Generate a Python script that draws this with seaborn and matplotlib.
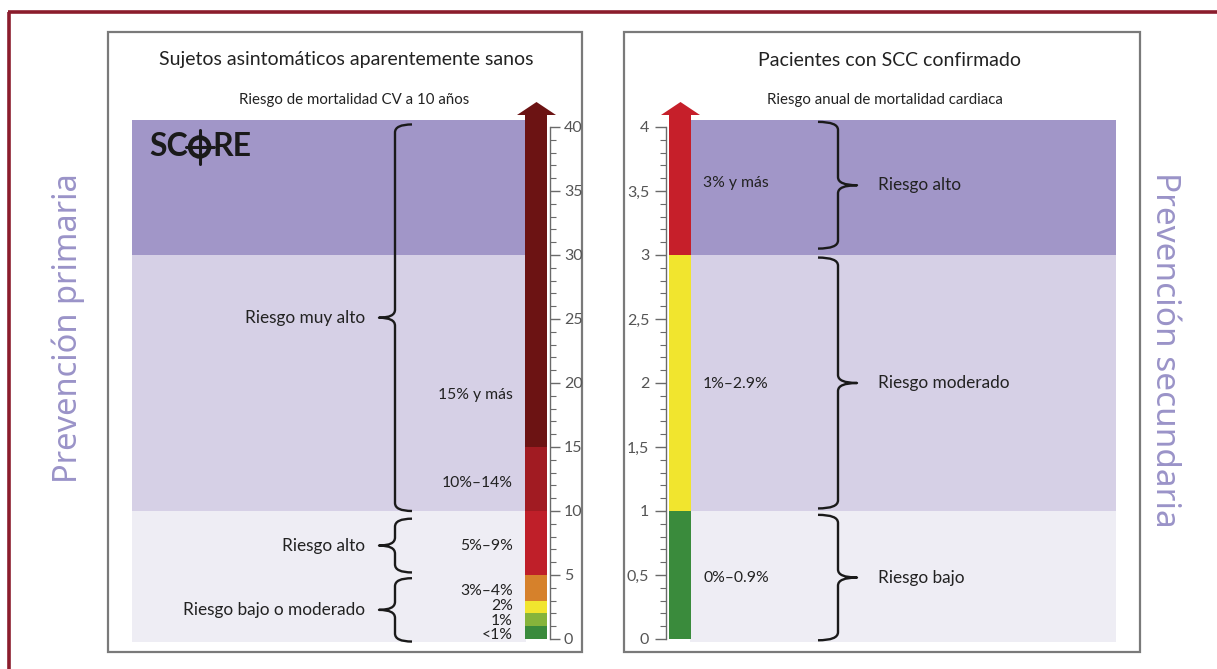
import numpy as np
import matplotlib
matplotlib.use("Agg")
import matplotlib.pyplot as plt
import seaborn as sns
from matplotlib.path import Path
from matplotlib.patches import PathPatch, Rectangle, Circle

# ---------------- data ----------------
left_title = "Sujetos asintomáticos aparentemente sanos"
left_subtitle = "Riesgo de mortalidad CV a 10 años"
right_title = "Pacientes con SCC confirmado"
right_subtitle = "Riesgo anual de mortalidad cardiaca"
side_left = "Prevención primaria"
side_right = "Prevención secundaria"

# left: 10-year CV mortality risk (%)
left_seg_lo = [0, 1, 2, 3, 5, 10, 15]
left_seg_hi = [1, 2, 3, 5, 10, 15, 40]
left_seg_colors = ["#3a8b3c", "#86b43b", "#f1e52e", "#d6812b", "#bf1f29", "#a11b22", "#6c1313"]
left_seg_labels = ["<1%", "1%", "2%", "3%–4%", "5%–9%", "10%–14%", "15% y más"]
left_seg_label_y = [0.3, 1.4, 2.6, 3.75, 7.3, 12.2, 19.1]
left_band_edges = [10, 30]
left_ticks = [0, 5, 10, 15, 20, 25, 30, 35, 40]
left_tick_labels = ["0", "5", "10", "15", "20", "25", "30", "35", "40"]
left_groups = ["Riesgo bajo o moderado", "Riesgo alto", "Riesgo muy alto"]
left_group_lo = [-0.2, 5.2, 10.0]
left_group_hi = [4.75, 9.4, 40.2]

# right: annual cardiac mortality risk (%)
right_seg_lo = [0, 1, 3]
right_seg_hi = [1, 3, 4]
right_seg_colors = ["#3a8b3c", "#f1e52e", "#c61f2a"]
right_seg_labels = ["0%–0.9%", "1%–2.9%", "3% y más"]
right_seg_label_y = [0.48, 1.99, 3.56]
right_band_edges = [1, 3]
right_ticks = [0, 0.5, 1, 1.5, 2, 2.5, 3, 3.5, 4]
right_tick_labels = ["0", "0,5", "1", "1,5", "2", "2,5", "3", "3,5", "4"]
right_groups = ["Riesgo bajo", "Riesgo moderado", "Riesgo alto"]
right_group_lo = [-0.01, 1.02, 3.05]
right_group_hi = [0.97, 2.98, 4.04]

band_colors = ["#eeedf4", "#d6d0e6", "#a196c8"]
side_color = "#9a93c8"
text_color = "#222222"

# ---------------- figure ----------------
sns.set_theme(style="white")
plt.rcParams["font.family"] = ["Lato", "DejaVu Sans"]

W, H = 1217, 669
fig = plt.figure(figsize=(W / 100, H / 100), dpi=100)
fig.patch.set_facecolor("white")

bg = fig.add_axes([0, 0, 1, 1], zorder=0)
bg.set_xlim(0, W)
bg.set_ylim(H, 0)
bg.axis("off")

# outer dark-red frame (top and left)
bg.plot([8, W], [12, 12], color="#8b1c2c", lw=2.6, solid_capstyle="butt")
bg.plot([9, 9], [12, H], color="#8b1c2c", lw=2.6, solid_capstyle="butt")
# panel boxes
for x0, x1 in [(108, 582), (624, 1140)]:
    bg.add_patch(Rectangle((x0, 32), x1 - x0, 620, fill=False, ec="#7a7a7a", lw=1.6))

# titles
bg.text(346, 60, left_title, ha="center", va="center", fontsize=14, color=text_color)
bg.text(354, 100, left_subtitle, ha="center", va="center", fontsize=10.8, color=text_color)
bg.text(890, 60, right_title, ha="center", va="center", fontsize=14, color=text_color)
bg.text(885, 100, right_subtitle, ha="center", va="center", fontsize=10.8, color=text_color)

# side labels
bg.text(68, 328, side_left, rotation=90, ha="center", va="center", fontsize=23.5,
        color=side_color, family=["Noto Sans", "DejaVu Sans"])
bg.text(1165, 350, side_right, rotation=270, ha="center", va="center", fontsize=24,
        color=side_color, family=["Noto Sans", "DejaVu Sans"])


def px_axes(x0, x1, y_top, y_bot):
    return fig.add_axes([x0 / W, (H - y_bot) / H, (x1 - x0) / W, (y_bot - y_top) / H], zorder=2)


ZERO_Y = 639.0
TOP_Y, BOT_Y = 120.0, 642.0


def brace(ax, x, y0, y1, hook, tip, kpx, r_px=8, lw=1.7):
    r = r_px * kpx
    ym = 0.5 * (y0 + y1)
    verts = [(x + hook, y1), (x, y1), (x, y1 - r), (x, ym + r), (x, ym), (x + tip, ym),
             (x, ym), (x, ym - r), (x, y0 + r), (x, y0), (x + hook, y0)]
    codes = [Path.MOVETO, Path.CURVE3, Path.CURVE3, Path.LINETO, Path.CURVE3, Path.CURVE3,
             Path.CURVE3, Path.CURVE3, Path.LINETO, Path.CURVE3, Path.CURVE3]
    ax.add_patch(PathPatch(Path(verts, codes), fill=False, ec="#1a1a1a", lw=lw,
                           capstyle="butt", joinstyle="round", clip_on=False, zorder=5))
    return ym


def arrow_head(ax, bar_x, bar_w, top, color, kpx):
    base = top + 12 * kpx
    tip = top + 25 * kpx
    ax.fill([bar_x - 8, bar_x + bar_w + 9, bar_x + bar_w / 2 + 0.5],
            [base, base, tip], color=color, lw=0, clip_on=False, zorder=4)
    ax.fill([bar_x, bar_x + bar_w, bar_x + bar_w, bar_x], [top, top, base + 0.2 * kpx, base + 0.2 * kpx],
            color=color, lw=0, clip_on=False, zorder=4)


# ---------------- left panel ----------------
LX0, LX1 = 132, 550
lw_px = LX1 - LX0
axL = px_axes(LX0, LX1, TOP_Y, BOT_Y)
kL = 40 / (ZERO_Y - 127)  # data units per px
axL.set_xlim(0, lw_px)
axL.set_ylim(-(BOT_Y - ZERO_Y) * kL, (ZERO_Y - TOP_Y) * kL)
axL.patch.set_alpha(0)
barL_x, bar_w = 393, 22
ylo, yhi = axL.get_ylim()
edges = [ylo] + left_band_edges + [yhi]
for i, c in enumerate(band_colors):
    axL.axhspan(edges[i], edges[i + 1], xmin=0, xmax=(barL_x + 1) / lw_px, color=c, lw=0, zorder=0)
for lo, hi, c in zip(left_seg_lo, left_seg_hi, left_seg_colors):
    axL.bar(barL_x, hi - lo, bottom=lo, width=bar_w, align="edge", color=c, lw=0, zorder=2)
arrow_head(axL, barL_x, bar_w, left_seg_hi[-1], left_seg_colors[-1], kL)
for lab, y in zip(left_seg_labels, left_seg_label_y):
    axL.text(381, y, lab, ha="right", va="center", fontsize=11.3, color=text_color, zorder=6)
for lab, lo, hi in zip(left_groups, left_group_lo, left_group_hi):
    ym = brace(axL, 263, lo, hi, hook=17, tip=-16, kpx=kL)
    axL.text(233, ym, lab, ha="right", va="center", fontsize=12.4, color=text_color, zorder=6)

for s in ["left", "top", "bottom"]:
    axL.spines[s].set_visible(False)
axL.spines["right"].set_bounds(0, 40)
axL.spines["right"].set_color("#6a6a6a")
axL.spines["right"].set_linewidth(1.0)
axL.yaxis.tick_right()
axL.set_yticks(left_ticks, left_tick_labels)
axL.set_yticks(np.arange(0, 41, 1), minor=True)
axL.set_xticks([])
axL.tick_params(axis="y", which="major", direction="out", length=7, width=1, color="#6a6a6a",
                labelsize=11.5, labelcolor="#555555", pad=3, right=True, left=False)
axL.tick_params(axis="y", which="minor", direction="out", length=4, width=0.8, color="#6a6a6a",
                right=True, left=False)
axL.grid(False)

# ---------------- right panel ----------------
RX0, RX1 = 666, 1116
rw_px = RX1 - RX0
axR = px_axes(RX0, RX1, TOP_Y, BOT_Y)
kR = 4 / (ZERO_Y - 127)
axR.set_xlim(0, rw_px)
axR.set_ylim(-(BOT_Y - ZERO_Y) * kR, (ZERO_Y - TOP_Y) * kR)
axR.patch.set_alpha(0)
barR_x = 3
ylo, yhi = axR.get_ylim()
edges = [ylo] + right_band_edges + [yhi]
for i, c in enumerate(band_colors):
    axR.axhspan(edges[i], edges[i + 1], xmin=(barR_x + bar_w - 1) / rw_px, xmax=1, color=c, lw=0, zorder=0)
for lo, hi, c in zip(right_seg_lo, right_seg_hi, right_seg_colors):
    axR.bar(barR_x, hi - lo, bottom=lo, width=bar_w, align="edge", color=c, lw=0, zorder=2)
arrow_head(axR, barR_x, bar_w, right_seg_hi[-1], right_seg_colors[-1], kR)
for lab, y in zip(right_seg_labels, right_seg_label_y):
    axR.text(37, y, lab, ha="left", va="center", fontsize=11.3, color=text_color, zorder=6)
for lab, lo, hi in zip(right_groups, right_group_lo, right_group_hi):
    ym = brace(axR, 172, lo, hi, hook=-20, tip=19, kpx=kR)
    axR.text(212, ym, lab, ha="left", va="center", fontsize=12.4, color=text_color, zorder=6)

for s in ["right", "top", "bottom"]:
    axR.spines[s].set_visible(False)
axR.spines["left"].set_bounds(0, 4)
axR.spines["left"].set_color("#6a6a6a")
axR.spines["left"].set_linewidth(1.0)
axR.set_yticks(right_ticks, right_tick_labels)
axR.set_yticks(np.arange(0, 4.01, 0.1), minor=True)
axR.set_xticks([])
axR.tick_params(axis="y", which="major", direction="out", length=8, width=1, color="#6a6a6a",
                labelsize=11.5, labelcolor="#555555", pad=4, left=True, right=False)
axR.tick_params(axis="y", which="minor", direction="out", length=4, width=0.8, color="#6a6a6a",
                left=True, right=False)
axR.grid(False)

# ---------------- SCORE logo (overlay, pixel space) ----------------
ov = fig.add_axes([0, 0, 1, 1], zorder=10)
ov.set_xlim(0, W)
ov.set_ylim(H, 0)
ov.axis("off")
ov.patch.set_alpha(0)
fig.canvas.draw()
rend = fig.canvas.get_renderer()
logo_y = 147
t1 = ov.text(149, logo_y, "SC", ha="left", va="center", fontsize=23, fontweight="bold", color="#1a1a1a")
ext = t1.get_window_extent(rend)
xc = ext.x1 + 12
ov.add_patch(Circle((xc, logo_y), 9.5, fill=False, ec="#1a1a1a", lw=3.2))
ov.plot([xc, xc], [logo_y - 17, logo_y + 17], color="#1a1a1a", lw=2.2)
ov.plot([xc - 14, xc + 14], [logo_y, logo_y], color="#1a1a1a", lw=2.2)
ov.text(xc + 13, logo_y, "RE", ha="left", va="center", fontsize=23, fontweight="bold", color="#1a1a1a")

fig.savefig("out.png", dpi=100, facecolor="white")
